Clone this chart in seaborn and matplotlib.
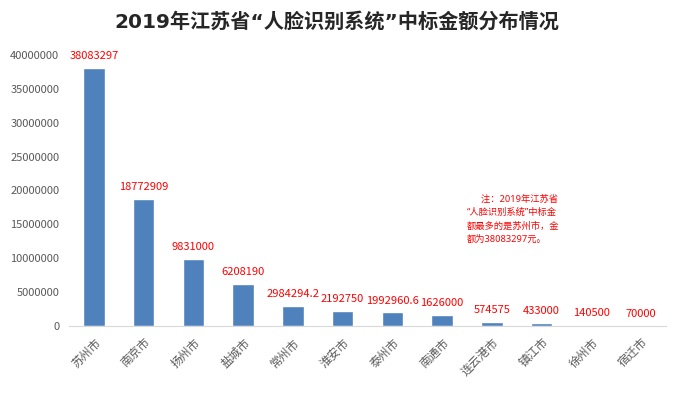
import matplotlib
matplotlib.use("Agg")
import matplotlib.pyplot as plt
import seaborn as sns
import pandas as pd

cities = ["苏州市", "南京市", "扬州市", "盐城市", "常州市", "淮安市",
          "泰州市", "南通市", "连云港市", "镇江市", "徐州市", "宿迁市"]
amounts = [38083297, 18772909, 9831000, 6208190, 2984294.2, 2192750,
           1992960.6, 1626000, 574575, 433000, 140500, 70000]
amount_labels = ["38083297", "18772909", "9831000", "6208190", "2984294.2", "2192750",
                 "1992960.6", "1626000", "574575", "433000", "140500", "70000"]
yticks = [0, 5000000, 10000000, 15000000, 20000000, 25000000, 30000000, 35000000, 40000000]

sns.set_style("white")
plt.rcParams["font.family"] = ["Noto Sans CJK SC", "DejaVu Sans"]
latin_first = ["Noto Sans", "Noto Sans CJK SC"]

df = pd.DataFrame({"city": cities, "amount": amounts})

fig = plt.figure(figsize=(6.73, 3.94), dpi=100)
ax = fig.add_axes([0.1025, 0.1726, 0.887, 0.6878])
sns.barplot(data=df, x="city", y="amount", color="#4F81BD", saturation=1,
            width=0.43, ax=ax)

ax.set_ylim(0, 40000000)
ax.set_xlim(-0.5, 11.5)
ax.set_yticks(yticks)
ax.set_yticklabels([str(v) for v in yticks], fontsize=8, color="#595959")
ax.set_xticks(range(len(cities)))
ax.set_xticklabels(cities, rotation=45, ha="right", rotation_mode="anchor",
                   fontsize=8.5, color="#595959")
ax.tick_params(axis="y", length=0, pad=7)
ax.tick_params(axis="x", length=0, pad=7)
ax.set_xlabel("")
ax.set_ylabel("")
for s in ["top", "right", "left"]:
    ax.spines[s].set_visible(False)
ax.spines["bottom"].set_color("#D9D9D9")

for i, (v, lab) in enumerate(zip(amounts, amount_labels)):
    ax.annotate(lab, (i, v), xytext=(0, 5), textcoords="offset points",
                ha="center", va="bottom", fontsize=8, color="red")

fig.text(0.5, 0.945, "2019年江苏省“人脸识别系统”中标金额分布情况",
         ha="center", va="center", fontsize=14.5, fontweight="bold",
         color="#262626", family=["DejaVu Sans", "Noto Sans CJK SC"])

note = ("　  注：2019年江苏省\n“人脸识别系统”中标金\n"
        "额最多的是苏州市，金\n额为38083297元。")
fig.text(0.694, 0.507, note, ha="left", va="top", fontsize=6.7, color="red",
         linespacing=1.6, family=latin_first)

fig.savefig("out.png", dpi=100)
